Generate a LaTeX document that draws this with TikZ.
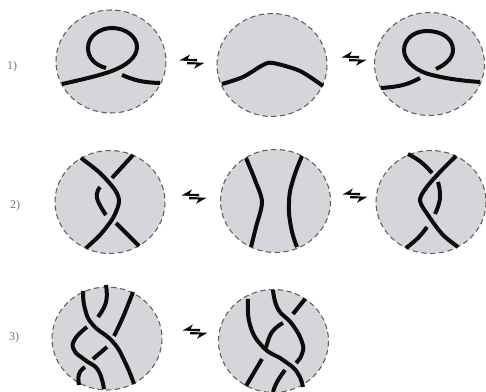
\documentclass[tikz,border=0pt]{standalone}
\usepackage{tikz}
\usepackage{xcolor}
\usepackage{fontspec}
\setmainfont{Liberation Serif}
\definecolor{cDisc}{RGB}{215,213,217}
\definecolor{cRim}{RGB}{95,95,95}
\definecolor{cStrand}{RGB}{12,12,12}
\definecolor{cLabel}{RGB}{120,120,120}
\tikzset{
	disc/.style   ={fill=cDisc, draw=cRim, line width=0.8pt, dash pattern=on 4pt off 2.6pt},
	strand/.style ={cStrand, line width=3pt, line cap=butt},
	movelbl/.style={text=cLabel, font=\small, inner sep=0pt},
	% pair of opposed half arrows
	harp/.pic     ={
		\fill[cStrand] (-12.5,-0.5) -- (-2,-6.5) -- (-4.5,-2) -- (5,-2) -- (5,0.4) -- cycle;
		\fill[cStrand] (12.5,1.8) -- (2,7.8) -- (4.5,3.3) -- (-5,3.3) -- (-5,0.9) -- cycle;
	},
}
\begin{document}
\begin{tikzpicture}[x=0.75pt, y=-0.75pt]
	\useasboundingbox (0,0) rectangle (486,392);
	% the discs
	\foreach \cx/\cy in {111/61.5, 272/65, 429.5/64, 110/202, 275.5/201, 431/202, 107/338.5, 273.5/341}
		\draw[disc] (\cx,\cy) ellipse [x radius=55, y radius=51.5];
	% arrows between discs
	\foreach \ax/\ay in {192/61, 354/58, 194/196, 355/195, 195/331}
		\pic at (\ax,\ay) {harp};
	% row 1
	\draw[strand] (106,68) .. controls (95,65) and (88,58) .. (88,48) .. controls (88,36) and (100,28) .. (112,28) .. controls (126,28) and (137,37) .. (137,47) .. controls (137,58) and (125,66) .. (112,71) .. controls (98,76) and (80,80) .. (62,84);
	\draw[strand] plot[smooth, tension=.8] coordinates {(122,75) (140,81) (160,83)};
	\draw[strand] plot[smooth, tension=.5] coordinates {(222,84) (243,77) (263,65) (273,63) (300,71) (323,86)};
	\draw[strand] plot[smooth, tension=.8] coordinates {(381,88) (403,85) (420,78)};
	\draw[strand] (436,69) .. controls (447,64) and (453,57) .. (453,50) .. controls (453,38) and (441,31) .. (427,31) .. controls (413,31) and (404,40) .. (404,50) .. controls (404,62) and (418,72) .. (432,75) .. controls (448,79) and (465,81) .. (480,82);
	% row 2
	\draw[strand] plot[smooth, tension=.5] coordinates {(81,158) (100,173) (115,190) (119,202) (113,218) (100,235) (86,248)};
	\draw[strand] (133,155) -- (112,178);
	\draw[strand] plot[smooth, tension=.8] coordinates {(100,187) (97,198) (106,215)};
	\draw[strand] (116,223) -- (139,246);
	\draw[strand] plot[smooth, tension=.5] coordinates {(246,158) (255,180) (262,202) (256,227) (251,247)};
	\draw[strand] plot[smooth, tension=.8] coordinates {(302,156) (293,180) (289,202) (291,227) (297,247)};
	\draw[strand] plot[smooth, tension=.8] coordinates {(408,154) (421,162) (432,173)};
	\draw[strand] plot[smooth, tension=.5] coordinates {(456,156) (440,172) (426,188) (420,201) (430,218) (443,235) (458,247)};
	\draw[strand] plot[smooth, tension=.8] coordinates {(438,182) (440,198) (435,214)};
	\draw[strand] plot[smooth, tension=.8] coordinates {(427,227) (418,238) (406,248)};
	% row 3
	\draw[strand] plot[smooth, tension=.8] coordinates {(83,291) (85,309) (93,325) (113,342) (125,362) (134,384)};
	\draw[strand] plot[smooth, tension=.8] coordinates {(106,285) (106,302) (98,317)};
	\draw[strand] (107,347) -- (93,359);
	\draw[strand] plot[smooth, tension=.8] coordinates {(133,292) (123,317) (114,336)};
	\draw[strand] plot[smooth, tension=.8] coordinates {(87,327) (75,339) (74,350) (85,360) (98,370) (104,389)};
	\draw[strand] plot[smooth, tension=.8] coordinates {(85,367) (79,374) (79,385)};
	\draw[strand] plot[smooth, tension=.8] coordinates {(248,299) (250,325) (263,347) (283,360) (297,372) (303,387)};
	\draw[strand] plot[smooth, tension=.8] coordinates {(273,290) (278,309) (292,324) (302,342) (302,354) (296,363)};
	\draw[strand] (305,299) -- (293,314);
	\draw[strand] plot[smooth, tension=.8] coordinates {(283,323) (272,332) (266,348)};
	\draw[strand] (262,359) -- (246,386);
	\draw[strand] plot[smooth, tension=.8] coordinates {(285,370) (277,382) (273,392)};
	% move numbers
	\node[movelbl] (moveA) at (12,67) {1)};
	\node[movelbl] (moveB) at (15,206) {2)};
	\node[movelbl] (moveC) at (14,338) {3)};
\end{tikzpicture}
\end{document}
